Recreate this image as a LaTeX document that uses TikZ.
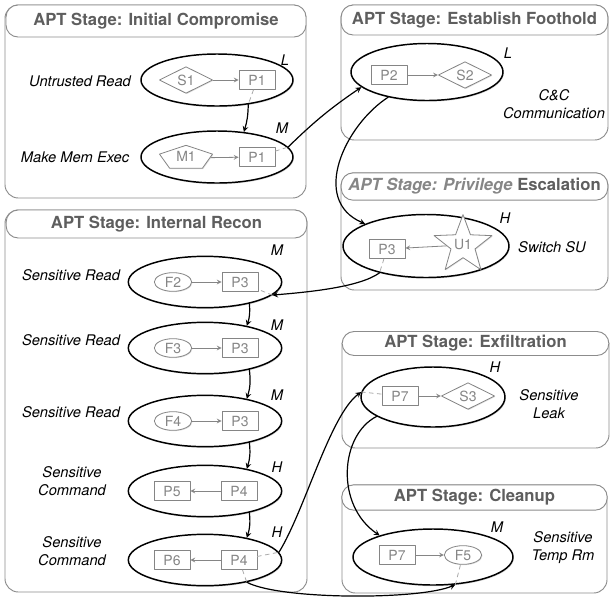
\documentclass[tikz,border=0pt]{standalone}
\usepackage{fontspec}
\setmainfont{TeX Gyre Heros}
\usetikzlibrary{shapes.geometric,shadows}
\definecolor{framegray}{HTML}{8C8C8C}
\definecolor{titlegray}{HTML}{5E5E5E}
\definecolor{innergray}{HTML}{858585}
\begin{document}
\begin{tikzpicture}[x=0.75pt, y=-0.75pt, line join=round, line cap=round, >=stealth,
	stagebox/.style={draw=framegray, line width=0.7pt, rounded corners=10pt},
	stagebar/.style={draw=framegray, fill=white, line width=0.7pt, rounded corners=9pt, inner sep=0pt, text=titlegray, font=\fontsize{12.5}{14}\selectfont\bfseries},
	evt/.style={ellipse, draw, line width=1.1pt, fill=white, inner sep=0pt, drop shadow={opacity=0.3, shadow xshift=0.6pt, shadow yshift=-0.9pt}},
	innernode/.style={draw=innergray, fill=white, line width=0.6pt, inner sep=0pt, text=innergray, font=\fontsize{10.5}{12}\selectfont, drop shadow={opacity=0.25, shadow xshift=0.6pt, shadow yshift=-0.6pt}},
	procnode/.style={innernode, rectangle, minimum width=27pt, minimum height=14.5pt},
	socknode/.style={innernode, diamond, aspect=2, minimum width=40pt, minimum height=20pt},
	filenode/.style={innernode, ellipse, minimum width=28pt, minimum height=14pt},
	memnode/.style={innernode, regular polygon, regular polygon sides=5, minimum size=19pt, xscale=2.2, transform shape},
	usernode/.style={innernode, star, star points=5, star point ratio=2.4, minimum size=40pt},
	innertext/.style={text=innergray, font=\fontsize{10.5}{12}\selectfont},
	lbl/.style={font=\fontsize{11}{13.5}\selectfont\itshape, align=center},
	lvl/.style={font=\fontsize{11}{13}\selectfont\itshape},
	flow/.style={->, line width=0.9pt},
	innerflow/.style={->, draw=innergray, line width=0.6pt},
	innertrace/.style={draw=innergray!70, dashed, line width=0.6pt}]
	\useasboundingbox (0,0) rectangle (611,601);
	% stage frames
	\draw[stagebox] (5,5) rectangle (306,198);
	\draw[stagebox] (341,5) rectangle (608,140);
	\draw[stagebox] (341,173) rectangle (608,290);
	\draw[stagebox] (5,210) rectangle (307,592);
	\draw[stagebox] (342,332) rectangle (609,448);
	\draw[stagebox] (342,485) rectangle (607,593);
	\node[stagebar, minimum width=225pt, minimum height=24pt] (initbar) at (156,21) {APT Stage: Initial Compromise};
	\node[stagebar, minimum width=200pt, minimum height=22.5pt] (footbar) at (474.5,20) {APT Stage: Establish Foothold};
	\node[stagebar, minimum width=200pt, minimum height=20.5pt] (privbar) at (474.5,186.5) {{\itshape\color{titlegray!75}APT Stage: Privilege} Escalation};
	\node[stagebar, minimum width=225.5pt, minimum height=21pt] (reconbar) at (156.5,224) {APT Stage: Internal Recon};
	\node[stagebar, minimum width=200pt, minimum height=18pt] (exfilbar) at (475.5,343.5) {APT Stage: Exfiltration};
	\node[stagebar, minimum width=199pt, minimum height=19pt] (cleanbar) at (474.5,497.5) {APT Stage: Cleanup};
	% initial compromise
	\node[evt, minimum width=114pt, minimum height=39pt] (untrusted) at (217,80) {};
	\node[evt, minimum width=114pt, minimum height=39pt] (memexec) at (217,157) {};
	\node[socknode] (s1) at (186,80) {S1};
	\node[procnode] (p1a) at (257,80) {P1};
	\draw[innerflow] (s1) -- (p1a);
	\node[memnode] (m1) at (186,158) {};
	\node[innertext] (m1text) at (186,156) {M1};
	\node[procnode] (p1b) at (257,157) {P1};
	\draw[innerflow] (m1) -- (p1b);
	\node[lbl] (untrustedlbl) at (80,81) {Untrusted Read};
	\node[lbl] (memexeclbl) at (75,157) {Make Mem Exec};
	\node[lvl] (untrustedlvl) at (285,60) {L};
	\node[lvl] (memexeclvl) at (282,128) {M};
	% establish foothold
	\node[evt, minimum width=114pt, minimum height=42.75pt] (foothold) at (427,72) {};
	\node[procnode] (p2) at (389,75) {P2};
	\node[socknode] (s2) at (465,75) {S2};
	\draw[innerflow] (p2) -- (s2);
	\node[lvl] (footholdlvl) at (508,53) {L};
	\node[lbl] (footholdlbl) at (554,104) {C\&C\\Communication};
	% privilege escalation
	\node[evt, minimum width=124.5pt, minimum height=47.25pt] (privesc) at (426,246) {};
	\node[procnode] (p3a) at (387,249) {P3};
	\node[usernode] (u1) at (463,245) {U1};
	\draw[innerflow] (u1) -- (p3a);
	\node[lvl] (privesclvl) at (505,218) {H};
	\node[lbl] (privesclbl) at (552,247) {Switch SU};
	% internal recon
	\foreach \n/\y in {1/282, 2/348, 3/421, 4/491, 5/560}
		\node[evt, minimum width=115pt, minimum height=38.5pt] (recon\n) at (205,\y) {};
	\foreach \n/\y/\f in {1/282/F2, 2/348/F3, 3/421/F4} {
		\node[filenode] (rf\n) at (173,\y) {\f};
		\node[procnode] (rp\n) at (240,\y) {P3};
		\draw[innerflow] (rf\n) -- (rp\n);
	}
	\foreach \n/\y/\t in {4/491/P5, 5/560/P6} {
		\node[procnode] (rt\n) at (172,\y) {\t};
		\node[procnode] (rp\n) at (239,\y) {P4};
		\draw[innerflow] (rp\n) -- (rt\n);
	}
	\foreach \n/\y in {1/275, 2/340, 3/412}
		\node[lbl] (readlbl\n) at (71,\y) {Sensitive Read};
	\foreach \n/\y in {4/481, 5/551}
		\node[lbl] (cmdlbl\n) at (72,\y) {Sensitive\\Command};
	\foreach \n/\y/\l in {1/250/M, 2/325/M, 3/395/M, 4/467/H, 5/532/H}
		\node[lvl] (reconlvl\n) at (277,\y) {\l};
	% exfiltration
	\node[evt, minimum width=108pt, minimum height=45pt] (exfil) at (433,397) {};
	\node[procnode] (p7a) at (400,396) {P7};
	\node[socknode] (s3) at (468,396) {S3};
	\draw[innerflow] (p7a) -- (s3);
	\node[lvl] (exfillvl) at (495,367) {H};
	\node[lbl] (exfillbl) at (549,404) {Sensitive\\Leak};
	% cleanup
	\node[evt, minimum width=120pt, minimum height=42pt] (cleanup) at (433,557) {};
	\node[procnode] (p7b) at (397,555) {P7};
	\node[filenode] (f5) at (463,555) {F5};
	\draw[innerflow] (p7b) -- (f5);
	\node[lvl] (cleanuplvl) at (497,527) {M};
	\node[lbl] (cleanuplbl) at (563,548) {Sensitive\\Temp Rm};
	% traces inside events
	\draw[innertrace] (p1a) -- (untrusted.-38);
	\draw[innertrace] (p1b) -- (memexec.8);
	\draw[innertrace] (p3a) -- (privesc.210);
	\draw[innertrace] (recon1.-11) -- (rp1);
	\draw[innertrace] (rp5) -- (recon5.6);
	\draw[innertrace] (rp5) -- (recon5.-28);
	\draw[innertrace] (exfil.176) -- (p7a);
	\draw[innertrace] (cleanup.-51) -- (f5);
	% flows between events
	\draw[flow] (untrusted.-38) to[bend left=8] (memexec.43);
	\draw[flow] (memexec.8) to[bend left=5] (foothold.193);
	\draw[flow] (foothold.213) .. controls (345,125) and (310,200) .. (privesc.160);
	\draw[flow] (privesc.210) .. controls (360,287) and (310,292) .. (recon1.-11);
	\foreach \a/\b in {1/2, 2/3, 3/4, 4/5}
		\draw[flow] (recon\a.-26) to[bend left=12] (recon\b.28);
	\draw[flow] (recon5.6) .. controls (305,510) and (330,415) .. (exfil.176);
	\draw[flow] (exfil.199) .. controls (340,435) and (335,505) .. (cleanup.158);
	\draw[flow] (recon5.-28) .. controls (280,600) and (420,600) .. (cleanup.-51);
\end{tikzpicture}
\end{document}
